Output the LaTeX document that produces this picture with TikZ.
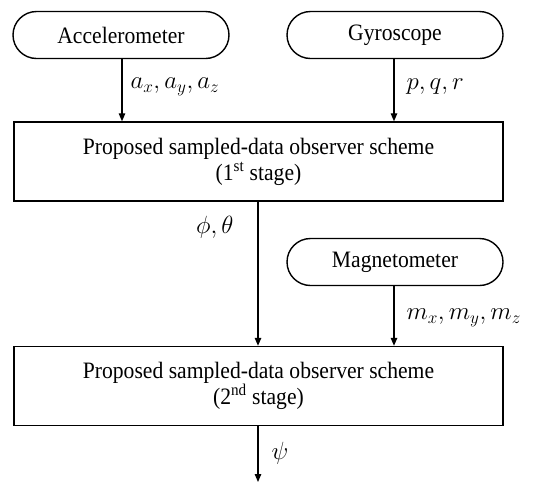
\documentclass[tikz,border=0pt]{standalone}
\usepackage{fontspec}
\setmainfont{Liberation Serif}[FakeStretch=0.92]
\usetikzlibrary{arrows.meta,shapes.misc}
\begin{document}
\begin{tikzpicture}[x=1pt,y=-1pt,
  font=\fontsize{23.5}{27}\selectfont,
  sensor/.style={draw,line width=1.4pt,rounded rectangle,minimum width=216pt,minimum height=47pt,inner sep=0pt},
  stagebox/.style={draw,line width=1.4pt,rectangle,minimum width=489pt,minimum height=79pt,align=center,inner sep=0pt},
  flow/.style={line width=1.3pt,-{Triangle[length=8pt,width=6.5pt]}},
  sig/.style={font=\fontsize{23.5}{27}\selectfont}]
\useasboundingbox (0,0) rectangle (533,483);
% sensors
\node[sensor] (acc) at (121,35) {Accelerometer};
\node[sensor] (gyro) at (395,35) {Gyroscope};
\node[sensor] (mag) at (395,262) {Magnetometer};
% observer stages
\node[stagebox] (s1) at (258.5,161.5) {Proposed sampled-data observer scheme\\[-1pt](1\textsuperscript{st} stage)};
\node[stagebox] (s2) at (258.5,386) {Proposed sampled-data observer scheme\\[-1pt](2\textsuperscript{nd} stage)};
\coordinate (out) at (258,482);
% signal flow
\draw[flow] (acc.south -| 122,0) -- (s1.north -| 122,0);
\draw[flow] (gyro.south -| 394,0) -- (s1.north -| 394,0);
\draw[flow] (s1.south -| 258,0) -- (s2.north -| 258,0);
\draw[flow] (mag.south -| 394,0) -- (s2.north -| 394,0);
\draw[flow] (s2.south -| 258,0) -- (out);
% signal labels
\node[sig,anchor=west] (la) at (127,87) {$a_x,a_y,a_z$};
\node[sig,anchor=west] (lg) at (403,87) {$p,q,r$};
\node[sig,anchor=east] (lphi) at (237,227) {$\phi,\theta$};
\node[sig,anchor=west] (lm) at (403,318) {$m_x,m_y,m_z$};
\node[sig,anchor=west] (lpsi) at (268,453) {$\psi$};
\end{tikzpicture}
\end{document}
